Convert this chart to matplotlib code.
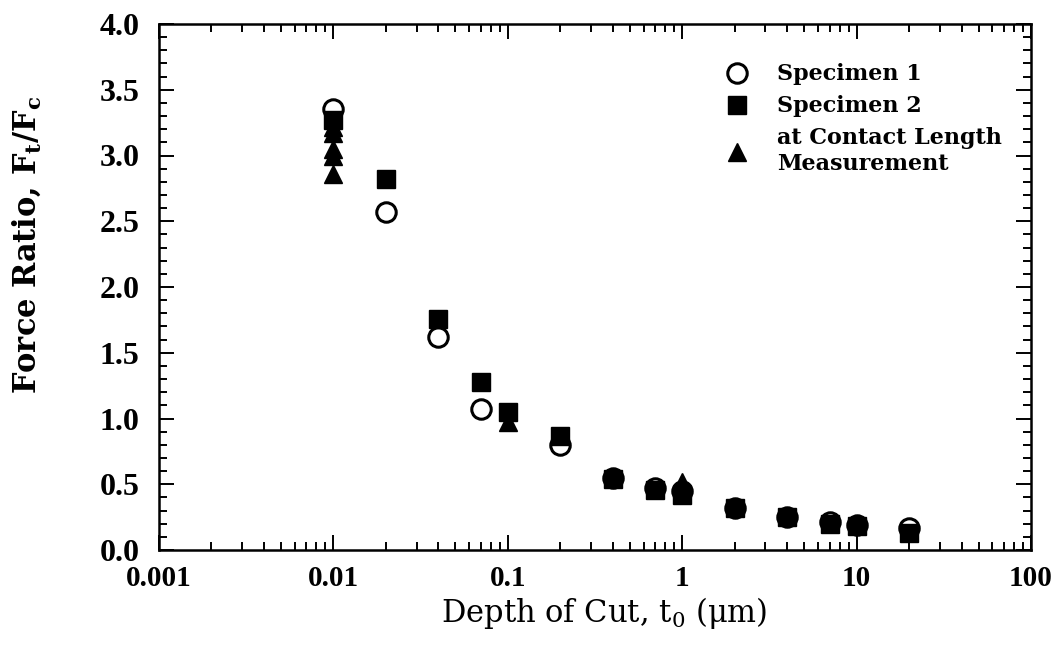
import numpy as np
import matplotlib
matplotlib.use("Agg")
import matplotlib.pyplot as plt
from matplotlib.ticker import MultipleLocator, LogLocator, FixedLocator, FixedFormatter, NullFormatter

# depth of cut (um) and force ratio Ft/Fc
depth_1 = [0.01, 0.02, 0.04, 0.07, 0.2, 0.4, 0.7, 1, 2, 4, 7, 10, 20]
ratio_1 = [3.35, 2.57, 1.62, 1.07, 0.80, 0.55, 0.47, 0.45, 0.32, 0.25, 0.21, 0.19, 0.17]

depth_2 = [0.01, 0.02, 0.04, 0.07, 0.1, 0.2, 0.4, 0.7, 1, 2, 4, 7, 10, 20]
ratio_2 = [3.27, 2.82, 1.76, 1.28, 1.05, 0.87, 0.54, 0.46, 0.42, 0.32, 0.25, 0.20, 0.18, 0.13]

depth_cl = [0.01, 0.01, 0.01, 0.01, 0.01, 0.1, 1]
ratio_cl = [3.22, 3.17, 3.05, 3.00, 2.86, 0.97, 0.52]

xtick_vals = [0.001, 0.01, 0.1, 1, 10, 100]
xtick_labels = ['0.001', '0.01', '0.1', '1', '10', '100']

plt.rcParams['mathtext.fontset'] = 'dejavuserif'
plt.rcParams['mathtext.default'] = 'bf'

fig = plt.figure(figsize=(10.61, 6.45), dpi=100)
ax = fig.add_axes([159 / 1061, 95 / 645, 872 / 1061, 526 / 645])

ax.plot(depth_1, ratio_1, 'o', mfc='white', mec='black', mew=2.2, ms=14,
        label='Specimen 1', zorder=3)
ax.plot(depth_2, ratio_2, 's', color='black', ms=13, label='Specimen 2', zorder=4)
ax.plot(depth_cl, ratio_cl, '^', color='black', ms=13,
        label='at Contact Length\nMeasurement', zorder=5)

ax.set_xscale('log')
ax.set_xlim(0.001, 100)
ax.set_ylim(0, 4.0)

ax.xaxis.set_major_locator(FixedLocator(xtick_vals))
ax.xaxis.set_major_formatter(FixedFormatter(xtick_labels))
ax.xaxis.set_minor_locator(LogLocator(base=10, subs=np.arange(2, 10)))
ax.xaxis.set_minor_formatter(NullFormatter())
ax.set_yticks(np.arange(0, 4.01, 0.5))
ax.set_yticklabels(['%.1f' % v for v in np.arange(0, 4.01, 0.5)])
ax.yaxis.set_minor_locator(MultipleLocator(0.1))

ax.tick_params(which='both', direction='in', top=True, right=True, width=1.4)
ax.tick_params(which='major', length=11)
ax.tick_params(which='minor', length=6)
ax.tick_params(axis='y', pad=14)
ax.tick_params(axis='x', pad=11)
for sp in ax.spines.values():
    sp.set_linewidth(1.8)

for lab in ax.get_yticklabels():
    lab.set_fontfamily('Liberation Serif')
    lab.set_fontweight('bold')
    lab.set_fontsize(23)
for lab in ax.get_xticklabels():
    lab.set_fontfamily('Liberation Serif')
    lab.set_fontweight('bold')
    lab.set_fontsize(21)

# axis titles
fig.text(27 / 1061, (645 - 245) / 645, 'Force Ratio, F$_t$/F$_c$', rotation=90,
         ha='center', va='center', fontfamily='DejaVu Serif', fontweight='bold',
         fontsize=22)
fig.text(604 / 1061, (645 - 622) / 645, 'Depth of Cut, t$_\\mathrm{0}$ (μm)',
         ha='center', va='baseline', fontfamily='DejaVu Serif', fontsize=22)

ax.legend(loc='upper left', bbox_to_anchor=(0.648, 0.925), frameon=False,
          prop={'family': 'DejaVu Serif', 'weight': 'bold', 'size': 16},
          handletextpad=1.2, labelspacing=0.45, handlelength=1.2,
          borderpad=0, borderaxespad=0)

fig.savefig('out.png', dpi=100)
